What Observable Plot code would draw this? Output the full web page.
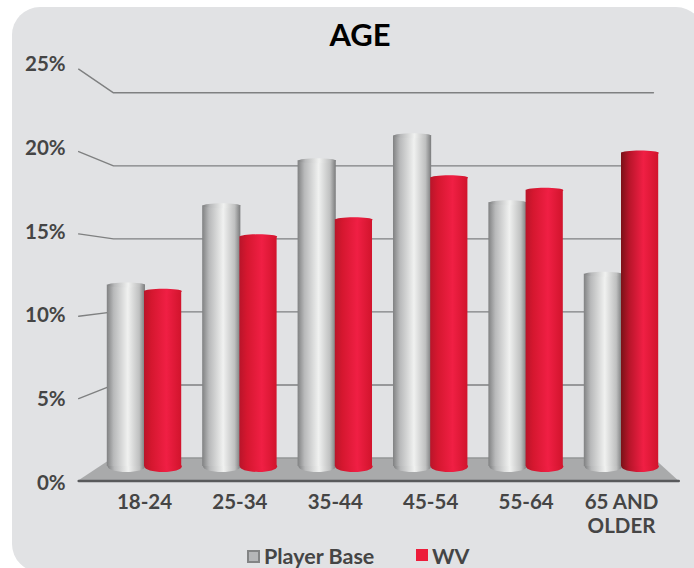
<!DOCTYPE html>
<html>
<head>
<meta charset="utf-8">
<script src="https://cdn.jsdelivr.net/npm/d3@7"></script>
<script src="https://cdn.jsdelivr.net/npm/@observablehq/plot@0.6"></script>
<style>
  html, body { margin: 0; padding: 0; background: #fff; overflow: hidden; width: 694px; height: 568px; }
  body { position: relative; font-family: Lato, sans-serif; }
  #panel { position: absolute; left: 12px; top: 7px; width: 692px; height: 565px; background: #e1e2e4; border-radius: 28px 28px 0 28px; }
  #chart { position: absolute; left: 0; top: 0; }
  #title { position: absolute; left: 260px; width: 200px; top: 16px; text-align: center; font-size: 31px; font-weight: 700; color: #000; line-height: 36px; }
  #legend { position: absolute; top: 543px; left: 0; height: 26px; font-size: 21.5px; font-weight: 700; color: #454545; line-height: 26px; }
  #legend span { position: absolute; white-space: nowrap; }
  #legend i { position: absolute; display: block; box-sizing: border-box; }
</style>
</head>
<body>
<div id="panel"></div>
<div id="chart"></div>
<div id="title">AGE</div>
<div id="legend">
  <i style="left:247px;top:7px;width:13px;height:13px;background:#b5b6b8;border:2px solid #838485"></i>
  <span style="left:264px">Player Base</span>
  <i style="left:416px;top:6px;width:12px;height:12px;background:#ed1c3a"></i>
  <span style="left:432px">WV</span>
</div>
<script>
const categories = ["18-24", "25-34", "35-44", "45-54", "55-64", "65 AND\nOLDER"];
const playerBase = [12, 17.1, 20, 21.6, 17.3, 12.7];
const wv = [11.6, 15.1, 16.2, 18.9, 18.1, 20.5];
const yTicks = [0, 5, 10, 15, 20, 25];

// The bars stand on a middle plane; the walls are projected from it.
const plane = (v, d) => v * (1 + 0.06 * d) - 0.74 * d;
const FRONT = 1, BACK = -1, LABEL = 1.3;
const xFrontL = -0.69, xFrontR = 5.6, xBackL = -0.325, xBackR = 5.335;

const gridRows = yTicks.filter(v => v > 0).flatMap(v => [
  {v, x: xFrontL, y: plane(v, FRONT)},
  {v, x: xBackL, y: plane(v, BACK)},
  {v, x: xBackR, y: plane(v, BACK)}
]);
const floorRows = [
  {x: xFrontL, y: plane(0, FRONT)},
  {x: xBackL, y: plane(0, BACK)},
  {x: xBackR, y: plane(0, BACK)},
  {x: xFrontR, y: plane(0, FRONT)}
];
const floorBase = plane(0, FRONT);

const greyRows = playerBase.map((v, i) => ({i, v, x1: i - 0.39, x2: i + 0.01, c: i - 0.19}));
const redRows = wv.map((v, i) => ({i, v, x1: i, x2: i + 0.39, c: i + 0.195}));
const redPlain = redRows.filter(d => d.i !== 5);
const redShaded = redRows.filter(d => d.i === 5);

const ellipse = (rx, ry) => ({
  draw(p) {
    const k = 0.5523;
    p.moveTo(-rx, 0);
    p.bezierCurveTo(-rx, -k * ry, -k * rx, -ry, 0, -ry);
    p.bezierCurveTo(k * rx, -ry, rx, -k * ry, rx, 0);
    p.bezierCurveTo(rx, k * ry, k * rx, ry, 0, ry);
    p.bezierCurveTo(-k * rx, ry, -rx, k * ry, -rx, 0);
    p.closePath();
  }
});

function gradients() {
  const defs = d3.create("svg:defs");
  const add = (id, stops) => {
    const g = defs.append("linearGradient").attr("id", id);
    stops.forEach(([o, c]) => g.append("stop").attr("offset", o).attr("stop-color", c));
  };
  add("gBar", [[0, "#808182"], [0.18, "#b8b9ba"], [0.55, "#f0f1f0"], [0.85, "#bfc0c0"], [1, "#7a7b7c"]]);
  add("rBar", [[0, "#b9152a"], [0.2, "#d5172f"], [0.6, "#f01f44"], [1, "#d1142c"]]);
  add("rDark", [[0, "#7a1218"], [0.22, "#b8152a"], [0.6, "#f01f44"], [1, "#d1142c"]]);
  return defs.node();
}

const cylinder = (rows, fill) => [
  Plot.dot(rows, {x: "c", y: () => 0, dy: -3, r: 1, symbol: ellipse(18.7, 5.5), fill}),
  Plot.rect(rows, {x1: "x1", x2: "x2", y1: () => 0, y2: "v", insetBottom: 3, insetTop: 2, fill}),
  Plot.dot(rows, {x: "c", y: "v", dy: 2, r: 1, symbol: ellipse(18.7, 2.5), fill})
];

const chart = Plot.plot({
  width: 694,
  height: 568,
  marginLeft: 96.3,
  marginRight: 25.3,
  marginTop: 80.5,
  marginBottom: 88,
  style: {background: "transparent", fontFamily: "Lato, sans-serif"},
  x: {domain: [-0.5, 5.5], axis: null},
  y: {domain: [0, 25], range: [469, 80.5], axis: null},
  marks: [
    gradients,
    Plot.line(gridRows, {x: "x", y: "y", z: "v", stroke: "#7f8081", strokeWidth: 1.4}),
    Plot.areaY(floorRows, {x: "x", y1: () => floorBase, y2: "y", fill: "#a9aaab"}),
    Plot.line(floorRows.slice(1, 3), {x: "x", y: "y", stroke: "#8a8b8c", strokeWidth: 1.2}),
    Plot.line(floorRows.filter(d => d.y === floorBase), {x: "x", y: "y", stroke: "#58595b", strokeWidth: 2.5}),
    ...cylinder(greyRows, "url(#gBar)"),
    ...cylinder(redPlain, "url(#rBar)"),
    ...cylinder(redShaded, "url(#rDark)"),
    Plot.text(yTicks, {
      x: () => xFrontL, y: v => plane(v, LABEL), text: v => `${v}%`,
      dx: -13, dy: -1, textAnchor: "end", fontSize: 20.5, fontWeight: 700, fill: "#454545"
    }),
    Plot.axisX({
      anchor: "bottom",
      ticks: d3.range(categories.length),
      tickFormat: i => categories[i],
      tickSize: 0,
      tickPadding: 11,
      lineHeight: 1.17,
      fontSize: 20.5,
      fontWeight: 700,
      fill: "#454545",
      label: null
    })
  ]
});
document.getElementById("chart").appendChild(chart);
</script>
</body>
</html>
